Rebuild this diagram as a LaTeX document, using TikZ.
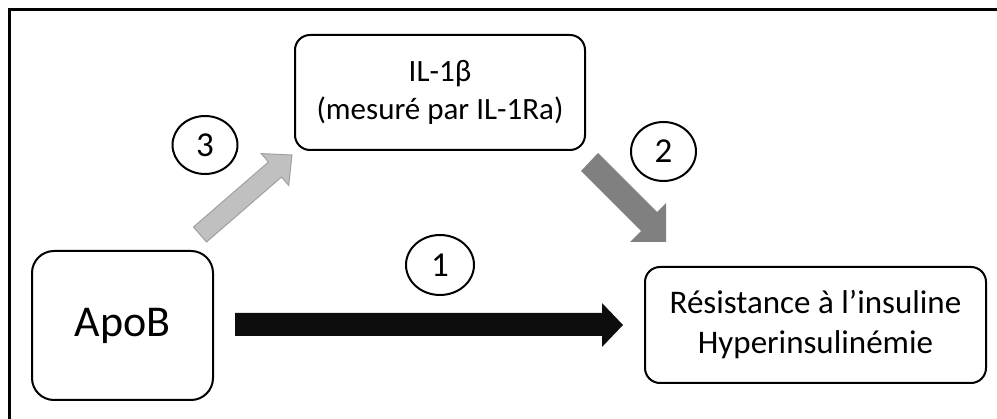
\documentclass[tikz,border=0pt]{standalone}
\usepackage{fontspec}
\setmainfont{Carlito}
\usetikzlibrary{shapes.geometric}
\definecolor{arrowdark}{RGB}{128,128,128}
\definecolor{arrowlight}{RGB}{192,192,192}
\definecolor{arrowlightedge}{RGB}{160,160,160}
\definecolor{arrowblack}{RGB}{13,13,13}
\tikzset{
  box/.style={draw=black, line width=2pt, fill=white, inner sep=0pt, align=center},
  numcircle/.style={ellipse, draw=black, line width=2pt, inner sep=0pt, font=\fontsize{35}{40}\selectfont},
}
\begin{document}
\begin{tikzpicture}[x=1pt,y=-1pt]
\useasboundingbox (0,0) rectangle (997,419);
% frame (top and left edges visible)
\draw[line width=3pt] (9.5,419) -- (9.5,9.5) -- (997,9.5);

% boxes
\node[box, rounded corners=15pt, minimum width=290pt, minimum height=115pt,
      font=\fontsize{31}{38}\selectfont] (il) at (440,92.5) {IL-1β\\(mesuré par IL-1Ra)};
\node[box, rounded corners=22pt, minimum width=181pt, minimum height=149pt,
      font=\fontsize{44}{53}\selectfont] (apob) at (122.5,325.5) {ApoB};
\node[box, rounded corners=15pt, minimum width=341pt, minimum height=116pt,
      font=\fontsize{33}{40}\selectfont] (ri) at (815.5,325) {Résistance à l’insuline\\Hyperinsulinémie};

% numbered circles
\node[numcircle, minimum width=65pt, minimum height=58pt] (c3) at (205,145) {3};
\node[numcircle, minimum width=65pt, minimum height=59pt] (c2) at (663.5,151.5) {2};
\node[numcircle, minimum width=68pt, minimum height=60pt] (c1) at (440,265) {1};

% block arrow 1 (black): ApoB -> insulin resistance
\fill[arrowblack] (235,313) -- (602,313) -- (602,303) -- (623,325) -- (602,347) -- (602,336) -- (235,336) -- cycle;

% block arrow 3 (light grey): ApoB -> IL-1beta
\filldraw[fill=arrowlight, draw=arrowlightedge, line width=1pt, line join=miter]
  (193.5,227) -- (268.5,162) -- (261.3,153.6) -- (292,155) -- (288.7,185.4) -- (281.5,177) -- (206.5,242) -- cycle;

% block arrow 2 (dark grey): IL-1beta -> insulin resistance (tip clipped)
\fill[arrowdark] (581,171) -- (598,153) -- (657,212) -- (666,203) -- (666,242) -- (630,242) -- (641,231) -- cycle;
\end{tikzpicture}
\end{document}
